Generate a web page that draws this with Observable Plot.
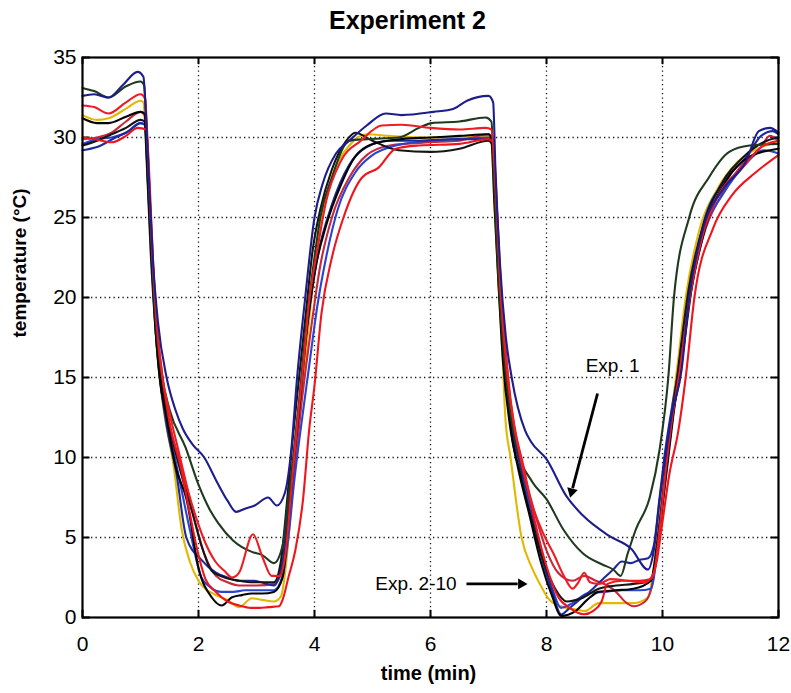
<!DOCTYPE html>
<html>
<head>
<meta charset="utf-8">
<script src="https://cdn.jsdelivr.net/npm/d3@7"></script>
<script src="https://cdn.jsdelivr.net/npm/@observablehq/plot@0.6"></script>
<style>
  html, body { margin: 0; padding: 0; background: #fff; }
  #chart svg { display: block; }
</style>
</head>
<body>
<div id="chart"></div>
<script>
// ---- Data (time in min, temperature in °C) ----
const titleText = "Experiment 2";
const xLabel = "time (min)";
const yLabel = "temperature (°C)";
const xTicks = [0, 2, 4, 6, 8, 10, 12];
const yTicks = [0, 5, 10, 15, 20, 25, 30, 35];

const seriesNames = ["yellow", "crimson", "blue", "navy2", "black2", "black", "dkgreen", "redLow", "redUp", "exp1"];
const seriesColors = ["#e2b800", "#c8283c", "#2a44d0", "#1c2a9a", "#151515", "#050505", "#1f3a1f", "#f0141e", "#ee1d23", "#1d1d8c"];

const exp1 = [[0,32.6],[0.2,32.7],[0.45,32.5],[0.7,33.3],[0.95,34.1],[1.05,33.8],[1.1,31],[1.15,27],[1.22,22],[1.3,18.5],[1.45,15],[1.6,13],[1.73,11.8],[1.9,10.8],[2.1,10],[2.3,8.6],[2.5,7.3],[2.65,6.6],[2.8,6.8],[2.97,7.0],[3.2,7.5],[3.35,7.0],[3.49,7.8],[3.6,10.5],[3.7,15],[3.84,20],[4.0,25],[4.14,27.1],[4.37,29],[4.6,29.8],[4.9,30.75],[5.23,31.5],[5.5,31.4],[6.05,31.6],[6.4,31.8],[6.63,32.3],[7.0,32.6],[7.08,32.2],[7.12,28],[7.2,22],[7.3,17.5],[7.4,15],[7.63,11.7],[7.73,11],[8.0,9.9],[8.34,7.6],[8.62,6.4],[9.08,5.1],[9.46,4.3],[9.75,3],[9.85,4.2],[9.95,7.3],[10.05,10],[10.15,12.5],[10.33,15.5],[10.46,20],[10.7,24.3],[11.05,26.8],[11.44,28.5],[11.66,30.4],[11.85,30.6],[12,30.3]];

const dkgreen = [[0,33.1],[0.2,32.9],[0.45,32.5],[0.75,33.2],[1.0,33.5],[1.06,33.3],[1.12,29],[1.18,24],[1.25,19],[1.35,15.5],[1.5,13],[1.78,10.6],[2.0,8.3],[2.2,6.7],[2.34,5.9],[2.6,4.8],[2.92,4.1],[3.1,3.9],[3.3,3.4],[3.45,4.5],[3.55,7.5],[3.65,10.5],[3.75,14],[3.85,18],[4.0,22.5],[4.1,25],[4.3,27.5],[4.6,29.8],[4.9,29.9],[5.45,30.0],[5.8,30.6],[6.02,30.9],[6.5,31.0],[6.95,31.25],[7.05,31],[7.1,27],[7.16,22],[7.25,17],[7.37,13],[7.5,10.5],[7.75,8.5],[8.0,7.4],[8.29,5.5],[8.63,4.0],[8.97,3.3],[9.15,3.0],[9.28,2.6],[9.4,4],[9.54,5.5],[9.78,7.5],[9.95,10.5],[10.1,15],[10.2,20.1],[10.46,25],[10.8,27.5],[11.15,29.1],[11.5,29.5],[12,29.6]];

const redUp = [[0,32.0],[0.2,31.9],[0.45,31.5],[0.75,32.2],[1.0,32.7],[1.08,32.4],[1.14,28],[1.2,23],[1.28,18.5],[1.38,15],[1.5,12.8],[1.65,10.5],[1.83,7.8],[2.0,5.8],[2.08,5.0],[2.29,3.5],[2.45,2.9],[2.58,2.5],[2.7,2.8],[2.94,5.2],[3.1,3.8],[3.26,2.6],[3.4,2.6],[3.5,4],[3.6,8],[3.7,12],[3.8,15.5],[3.9,19.5],[4.05,23],[4.2,26],[4.45,28.5],[4.8,29.8],[5.16,30.75],[5.5,30.8],[6.0,30.6],[6.5,30.5],[6.95,30.6],[7.05,30.5],[7.12,27],[7.2,21],[7.3,16.5],[7.42,12.5],[7.55,10],[7.73,7.3],[7.95,5.2],[8.12,4.0],[8.3,2.6],[8.45,1.8],[8.55,2.2],[8.65,2.8],[8.75,2.2],[8.9,2.1],[9.1,2.4],[9.4,2.3],[9.7,2.2],[9.85,2.8],[9.95,5.5],[10.05,9],[10.15,12],[10.3,15.5],[10.45,19.5],[10.7,24],[11.0,26.6],[11.4,28.2],[11.7,29.4],[12,29.8]];

const redLow = [[0,30.0],[0.2,29.9],[0.5,29.7],[0.75,30.1],[0.95,30.6],[1.1,30.5],[1.16,27],[1.22,22],[1.3,17.5],[1.4,14.5],[1.51,12],[1.7,9.3],[1.85,6.5],[1.98,4.2],[2.12,2.4],[2.3,1.6],[2.5,1.0],[2.7,0.75],[2.9,0.6],[3.05,0.6],[3.2,0.65],[3.39,0.7],[3.45,1.1],[3.55,2.5],[3.67,4.2],[3.8,7.3],[3.91,11.8],[4.0,14.5],[4.12,19],[4.3,22.5],[4.5,25],[4.82,27.5],[5.1,28.1],[5.4,29.3],[5.8,29.5],[6.5,29.6],[7.0,29.9],[7.08,29.7],[7.14,26],[7.2,21],[7.3,16],[7.46,11.7],[7.6,9.5],[7.8,6],[8.0,3.2],[8.2,1.3],[8.4,0.6],[8.65,0.2],[8.8,0.4],[8.95,1.0],[9.05,2.1],[9.3,2.3],[9.6,2.3],[9.8,2.4],[9.9,3.5],[10.0,6],[10.12,9],[10.27,11.6],[10.4,15],[10.55,20],[10.87,24.3],[11.2,26.4],[11.6,27.8],[12,28.9]];

const yellow = [[0,31.4],[0.25,31.1],[0.45,31.2],[0.75,31.8],[1.0,32.3],[1.05,32.2],[1.1,29],[1.16,24],[1.22,20],[1.3,16],[1.4,13],[1.57,9.5],[1.71,5.5],[1.85,3.5],[2.0,2.3],[2.3,1.4],[2.5,1.1],[2.7,0.65],[2.92,1.2],[3.1,1.1],[3.3,1.0],[3.42,1.3],[3.5,3],[3.6,7],[3.7,11],[3.8,14.5],[3.92,19],[4.1,24.5],[4.3,27.5],[4.6,29.5],[4.9,30.2],[5.3,30.1],[6,30.0],[6.5,30.0],[7.0,30.1],[7.05,29.8],[7.1,26],[7.17,21],[7.24,16.5],[7.29,12.5],[7.38,10],[7.57,5],[7.75,3.1],[7.9,2],[8.05,1.1],[8.25,0.7],[8.5,0.5],[8.66,0.4],[8.9,0.9],[9.2,0.9],[9.5,0.9],[9.75,1.25],[9.85,3.1],[9.95,6],[10.05,9.5],[10.12,11.8],[10.25,15.5],[10.4,20],[10.62,24],[10.95,26.8],[11.3,28.5],[11.7,29.4],[12,29.7]];

const black = [[0,31.2],[0.25,30.9],[0.45,30.9],[0.75,31.3],[1.0,31.6],[1.07,31.5],[1.12,28],[1.18,23],[1.25,18.5],[1.33,15],[1.45,12.5],[1.6,9.5],[1.8,7.3],[2.0,3.1],[2.23,1.25],[2.4,0.75],[2.57,1.25],[2.75,1.4],[2.92,1.5],[3.1,1.5],[3.3,1.6],[3.45,2.5],[3.55,6],[3.65,10],[3.75,13.5],[3.87,18],[4.0,21.5],[4.2,24.5],[4.45,27],[4.7,28.8],[5.0,29.6],[5.5,29.9],[6,30.0],[6.5,30.1],[7.0,30.2],[7.05,29.9],[7.1,26],[7.17,21],[7.25,16],[7.37,12],[7.5,9.5],[7.7,6.5],[7.9,3.5],[8.1,1.3],[8.25,0.1],[8.5,0.4],[8.7,1.1],[8.9,1.6],[9.2,1.7],[9.5,1.8],[9.8,2.3],[9.9,4],[10.0,7],[10.1,10],[10.2,13],[10.35,16.5],[10.5,20.5],[10.75,24.5],[11.1,27.3],[11.5,28.8],[12,29.3]];

const black2 = [[0,29.5],[0.25,29.8],[0.5,30.2],[0.75,30.6],[1.0,31.1],[1.07,31.0],[1.13,27],[1.2,22],[1.28,17.5],[1.38,14.5],[1.5,12],[1.7,9],[1.9,6.5],[2.05,4.5],[2.23,2.9],[2.45,2.5],[2.7,2.3],[2.95,2.2],[3.3,2.2],[3.42,3.5],[3.52,7],[3.62,11],[3.72,14.5],[3.85,19],[3.97,23],[4.1,25.5],[4.3,28],[4.55,29.8],[4.7,30.3],[5.0,29.8],[5.45,29.2],[6.0,29.1],[6.5,29.3],[7.0,29.8],[7.06,29.6],[7.12,26],[7.2,20.5],[7.28,16],[7.39,11.7],[7.55,9],[7.75,6],[7.95,3.5],[8.15,1.8],[8.35,1.0],[8.6,1.2],[8.9,1.8],[9.2,2.0],[9.5,2.1],[9.8,2.3],[9.9,4.5],[10.0,7.5],[10.1,10.5],[10.2,13.5],[10.32,17],[10.45,20.5],[10.7,24.5],[11.0,27],[11.4,28.8],[11.8,29.8],[12,30.0]];

const blue = [[0,29.6],[0.25,29.9],[0.5,30.0],[0.75,30.3],[1.0,30.9],[1.07,30.8],[1.12,27.5],[1.18,22.5],[1.26,18],[1.35,14.5],[1.48,12],[1.65,9],[1.85,5.5],[2.05,2.5],[2.2,1.9],[2.4,1.6],[2.6,1.6],[2.8,1.7],[3.0,1.7],[3.3,1.7],[3.45,2.6],[3.55,5],[3.65,8.5],[3.77,12],[3.9,15.5],[4.05,19.5],[4.2,22.5],[4.4,25.5],[4.7,27.8],[5.0,28.9],[5.4,29.5],[6.0,29.8],[6.5,29.9],[7.0,30.0],[7.06,29.8],[7.12,26],[7.2,21],[7.28,16.5],[7.38,12.5],[7.52,10],[7.7,7],[7.9,4],[8.1,1.8],[8.25,0.6],[8.45,0.9],[8.7,1.5],[9.0,1.6],[9.3,1.7],[9.6,1.7],[9.8,1.8],[9.92,4.5],[10.02,8],[10.12,11.6],[10.3,15],[10.46,20],[10.7,24],[11.05,26.5],[11.4,28.2],[11.75,29.2],[12,29.0]];

const navy2 = [[0,29.2],[0.25,29.4],[0.57,30.0],[0.8,30.4],[1.0,30.9],[1.08,30.8],[1.13,27.5],[1.2,22],[1.27,17.5],[1.35,14.5],[1.45,12],[1.62,9],[1.79,5.0],[2.05,3.6],[2.3,2.8],[2.5,2.5],[2.7,2.3],[2.95,2.3],[3.3,2.0],[3.45,3.5],[3.55,7],[3.65,10.5],[3.75,14],[3.88,18.5],[4.05,22.5],[4.3,25.8],[4.6,28.3],[4.9,29.4],[5.3,29.8],[5.8,29.8],[6.5,29.9],[7.0,29.9],[7.07,29.6],[7.13,26],[7.2,21],[7.3,16],[7.4,12],[7.55,9.5],[7.7,7.5],[7.9,4],[8.1,1.6],[8.25,0.2],[8.4,0.6],[8.6,1.2],[8.8,1.8],[9.0,2.5],[9.15,3.0],[9.3,3.5],[9.45,3.4],[9.6,3.6],[9.75,3.7],[9.85,4.5],[9.95,7.5],[10.05,10.5],[10.18,13.5],[10.33,16.5],[10.5,21],[10.72,24.8],[11.05,27.2],[11.45,28.8],[11.7,30.1],[11.9,30.4],[12,30.2]];

const crimson = [[0,29.9],[0.25,30.0],[0.5,30.3],[0.75,31.0],[1.0,31.6],[1.07,31.4],[1.13,27.5],[1.2,22.5],[1.28,18],[1.38,14.5],[1.5,12],[1.7,9.5],[1.9,6.5],[2.1,4.0],[2.3,2.6],[2.5,2.2],[2.7,2.0],[3.0,2.0],[3.3,2.1],[3.45,3.0],[3.55,6],[3.66,9.5],[3.78,13.5],[3.92,17.5],[4.1,22],[4.3,25],[4.6,27.5],[4.9,28.9],[5.3,29.5],[6.0,29.7],[6.5,29.8],[7.0,30.2],[7.06,30.0],[7.13,26.5],[7.21,21],[7.3,16.5],[7.42,12],[7.58,9.5],[7.8,6.5],[8.0,4.2],[8.2,2.8],[8.45,2.3],[8.65,2.6],[8.85,2.3],[9.05,2.0],[9.2,1.6],[9.35,1.0],[9.5,0.7],[9.7,1.0],[9.82,2.0],[9.92,4.5],[10.03,8],[10.15,11.8],[10.3,15.5],[10.45,19.5],[10.7,23.8],[11.0,26.3],[11.35,28.2],[11.7,29.4],[11.85,30.1],[12,29.8]];

// annotation labels and arrows (data units)
const noteLabels = ["Exp. 1", "Exp. 2-10"];
const noteX = [9.14, 6.45];
const noteY = [15.75, 2.1];
const arrowX1 = [8.88, 6.62];
const arrowY1 = [14.0, 2.1];
const arrowX2 = [8.4, 7.7];
const arrowY2 = [7.4, 2.1];

// ---- Layout ----
const W = 791, H = 693, mL = 82, mR = 13, mT = 57, mB = 76;
const xDomain = [0, 12], yDomain = [0, 35];
const pxPerX = (W - mL - mR) / (xDomain[1] - xDomain[0]);
const pxPerY = (H - mT - mB) / (yDomain[1] - yDomain[0]);

// ---- Build tables ----
const seriesData = {yellow, crimson, blue, navy2, black2, black, dkgreen, redLow, redUp, exp1};
const rows = seriesNames.flatMap(name => seriesData[name].map(([t, v]) => ({name, t, v})));

const headR = 5.2;               // triangle symbol radius (px)
const headTip = headR * 1.5;     // centroid-to-tip distance (approx, px)
const headLen = headR * 2.2;     // tip-to-base distance (px)
const arrows = arrowX1.map((x1, i) => {
  const y1 = arrowY1[i], x2 = arrowX2[i], y2 = arrowY2[i];
  const dxp = (x2 - x1) * pxPerX, dyp = -(y2 - y1) * pxPerY;
  const len = Math.hypot(dxp, dyp), ux = dxp / len, uy = dyp / len;
  const rot = Math.atan2(ux, -uy) * 180 / Math.PI;
  return {
    x1, y1,
    xb: x2 - ux * headLen / pxPerX, yb: y2 + uy * headLen / pxPerY,
    xc: x2 - ux * headTip / pxPerX, yc: y2 + uy * headTip / pxPerY,
    rot
  };
});

const font = "'Liberation Sans', Arial, Helvetica, sans-serif";
const gridStyle = {stroke: "#000", strokeOpacity: 0.9, strokeDasharray: "1.3,3.2", strokeWidth: 1.3};

const chart = Plot.plot({
  width: W,
  height: H,
  marginLeft: mL,
  marginRight: mR,
  marginTop: mT,
  marginBottom: mB,
  style: {fontFamily: font, fontSize: "21px", color: "#000", background: "#fff", overflow: "visible"},
  x: {domain: xDomain, ticks: xTicks, label: null},
  y: {domain: yDomain, ticks: yTicks, label: null},
  color: {domain: seriesNames, range: seriesColors},
  marks: [
    Plot.gridX(xTicks.slice(1, -1), gridStyle),
    Plot.gridY(yTicks.slice(1, -1), gridStyle),
    Plot.axisX(xTicks, {anchor: "bottom", tickSize: 0, tickPadding: 19, fontSize: 21, label: null}),
    Plot.axisY(yTicks, {anchor: "left", tickSize: 0, tickPadding: 6, fontSize: 21, label: null}),
    Plot.ruleX(xTicks, {x: d => d, y1: 0, y2: 0.45, stroke: "#000", strokeWidth: 2}),
    Plot.ruleX(xTicks, {x: d => d, y1: 35, y2: 34.55, stroke: "#000", strokeWidth: 2}),
    Plot.ruleY(yTicks, {y: d => d, x1: 0, x2: 0.13, stroke: "#000", strokeWidth: 2}),
    Plot.ruleY(yTicks, {y: d => d, x1: 12, x2: 11.87, stroke: "#000", strokeWidth: 2}),
    Plot.line(rows, {x: "t", y: "v", z: "name", stroke: "name", strokeWidth: 2.1, curve: "monotone-x"}),
    Plot.frame({stroke: "#000", strokeWidth: 2.2}),
    Plot.text([noteLabels[0]], {x: noteX[0], y: noteY[0], text: d => d, textAnchor: "middle", fontSize: 19, fill: "#000"}),
    Plot.text([noteLabels[1]], {x: noteX[1], y: noteY[1], text: d => d, textAnchor: "end", fontSize: 19, fill: "#000"}),
    Plot.link(arrows, {x1: "x1", y1: "y1", x2: "xb", y2: "yb", stroke: "#000", strokeWidth: 2.8}),
    Plot.dot(arrows, {x: "xc", y: "yc", rotate: "rot", symbol: "triangle2", r: headR, fill: "#000", stroke: "none"}),
    Plot.text([titleText], {frameAnchor: "top", dx: -23, dy: -29, fontSize: 25, fontWeight: "bold", fill: "#000", lineAnchor: "bottom"}),
    Plot.text([xLabel], {frameAnchor: "bottom", dx: -2, dy: 62, fontSize: 20, fontWeight: "bold", fill: "#000"}),
    Plot.text([yLabel], {frameAnchor: "left", dx: -63, rotate: -90, fontSize: 19, fontWeight: "bold", fill: "#000"})
  ]
});

document.getElementById("chart").appendChild(chart);
</script>
</body>
</html>
